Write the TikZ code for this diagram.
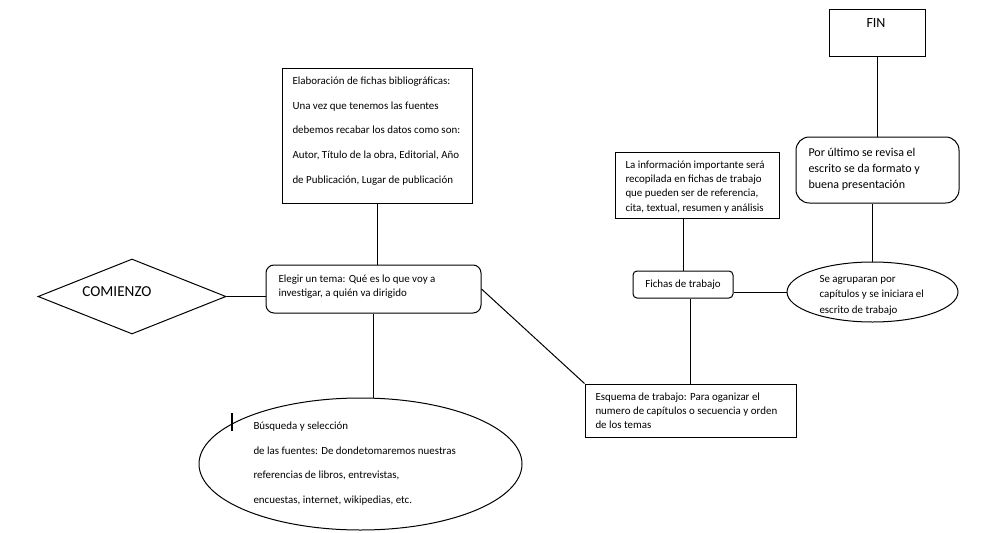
\documentclass[tikz,border=0pt]{standalone}
\usepackage{fontspec}
\setmainfont{Carlito}
\usetikzlibrary{shapes.geometric}
\begin{document}
\begin{tikzpicture}[x=0.75pt,y=-0.75pt,line width=0.75pt,
  wh/.style 2 args={minimum width=#1*0.75pt,minimum height=#2*0.75pt},
  shp/.style={draw,inner sep=0pt,fill=white},
  txt/.style={inner sep=0pt,anchor=base west,align=left},
  conn/.style={draw,line width=0.75pt}]
\useasboundingbox (0,0) rectangle (989,532);
% shapes
\node[shp,rectangle,wh={96}{47}] (fin) at (877,32.5) {};
\node[shp,rectangle,rounded corners=10pt,wh={163}{66}] (ultimo) at (877.5,170) {};
\node[shp,ellipse,wh={171}{60}] (agrup) at (872.5,292) {};
\node[shp,rectangle,rounded corners=3pt,wh={100}{27}] (fichas) at (683,284.5) {};
\node[shp,rectangle,wh={164}{66}] (info) at (697,185) {};
\node[shp,rectangle,wh={211}{53}] (esquema) at (690.5,410.5) {};
\node[shp,rectangle,rounded corners=6pt,wh={215}{48}] (elegir) at (373.5,289) {};
\node[shp,rectangle,wh={190}{135}] (elab) at (377,135.5) {};
\node[shp,ellipse,wh={323}{132}] (busq) at (360.5,464) {};
\node[shp,diamond,aspect=2.5,wh={188}{75}] (com) at (132,296.5) {};
% connectors
\draw[conn] (ultimo.north) -- (ultimo.north |- fin.south);
\draw[conn] (agrup.north) -- (agrup.north |- ultimo.south);
\draw[conn] (agrup.west) -- (agrup.west -| fichas.east);
\draw[conn] (fichas.north) -- (fichas.north |- info.south);
\draw[conn] (esquema.north) -- (esquema.north |- fichas.south);
\draw[conn] (elegir.east) -- (esquema.north west);
\draw[conn] (elab.south) -- (elab.south |- elegir.north);
\draw[conn] (elegir.south) -- (elegir.south |- busq.north);
\draw[conn] (com.east) -- (com.east -| elegir.west);
% texts (anchored at the baseline of the last line)
\node[inner sep=0pt,font=\fontsize{10.5}{12}\selectfont] (tfin) at (876,23) {FIN};
\node[inner sep=0pt,font=\fontsize{11.4}{13}\selectfont] (tcom) at (117,292) {COMIENZO};
\node[inner sep=0pt,font=\fontsize{8.2}{9}\selectfont] (tfichas) at (683,284.5) {Fichas de trabajo};
\node[txt,font=\fontsize{8.2}{18.4}\selectfont] (telab) at (292,183) {Elaboración de fichas bibliográficas:\\Una vez que tenemos las fuentes\\debemos recabar los datos como son:\\Autor, Título de la obra, Editorial, Año\\de Publicación, Lugar de publicación};
\node[txt,font=\fontsize{8.2}{18.3}\selectfont] (tbusq) at (253,503) {Búsqueda y selección\\de las fuentes: De dondetomaremos nuestras\\referencias de libros, entrevistas,\\encuestas, internet, wikipedias, etc.};
\node[txt,font=\fontsize{8.2}{10.5}\selectfont] (telegir) at (278,296) {Elegir un tema: Qué es lo que voy a\\investigar, a quién va dirigido};
\node[txt,font=\fontsize{8.2}{10.7}\selectfont] (tinfo) at (625,211) {La información importante será\\recopilada en fichas de trabajo\\que pueden ser de referencia,\\cita, textual, resumen y análisis};
\node[txt,font=\fontsize{9}{12}\selectfont] (tultimo) at (808,188) {Por último se revisa el\\escrito se da formato y\\buena presentación};
\node[txt,font=\fontsize{8.2}{11.6}\selectfont] (tagrup) at (819,313) {Se agruparan por\\capítulos y se iniciara el\\escrito de trabajo};
\node[txt,font=\fontsize{8.2}{10.5}\selectfont] (tesq) at (595,428) {Esquema de trabajo: Para oganizar el\\numero de capítulos o secuencia y orden\\de los temas};
% text cursor mark
\coordinate (cur1) at (232,413);
\coordinate (cur2) at (232,431);
\draw[line width=1.5pt] (cur1) -- (cur2);
\end{tikzpicture}
\end{document}
